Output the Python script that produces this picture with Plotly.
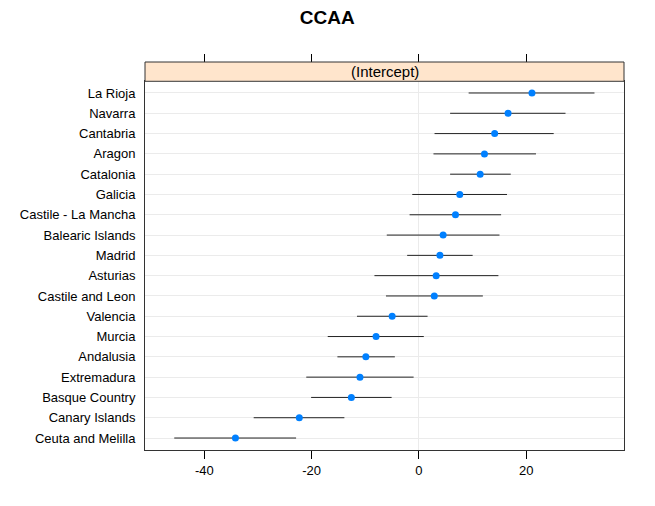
import plotly.graph_objects as go

regions = ["La Rioja", "Navarra", "Cantabria", "Aragon", "Catalonia", "Galicia",
           "Castile - La Mancha", "Balearic Islands", "Madrid", "Asturias",
           "Castile and Leon", "Valencia", "Murcia", "Andalusia", "Extremadura",
           "Basque Country", "Canary Islands", "Ceuta and Melilla"]
estimate = [21.05, 16.6, 14.1, 12.2, 11.4, 7.6, 6.8, 4.5, 3.9, 3.2,
            2.85, -5.0, -8.0, -9.9, -11.0, -12.6, -22.3, -34.2]
lower = [9.25, 5.8, 2.9, 2.7, 5.8, -1.25, -1.75, -6.0, -2.2, -8.3,
         -6.15, -11.55, -17.0, -15.2, -21.0, -20.1, -30.8, -45.6]
upper = [32.7, 27.3, 25.1, 21.8, 17.1, 16.4, 15.3, 15.0, 10.0, 14.8,
         11.9, 1.6, 0.9, -4.5, -1.0, -5.1, -13.9, -22.9]
x_ticks = [-40, -20, 0, 20]
x_ticklabels = ["-40", "-20", "0", "20"]

n = len(regions)
ypos = [n - 1 - i for i in range(n)]

fig = go.Figure()
fig.add_trace(go.Scatter(
    x=estimate, y=ypos, mode="markers",
    marker=dict(color="#0080FF", size=7, symbol="circle"),
    error_x=dict(type="data", symmetric=False,
                 array=[u - e for u, e in zip(upper, estimate)],
                 arrayminus=[e - l for e, l in zip(estimate, lower)],
                 color="#222222", thickness=1, width=0),
    showlegend=False, hoverinfo="skip"))
# invisible trace for top axis
fig.add_trace(go.Scatter(x=[x_ticks[0]], y=[0], xaxis="x2", mode="markers",
                         marker=dict(opacity=0), showlegend=False, hoverinfo="skip"))

font = "Liberation Sans, Arial, sans-serif"
fig.update_layout(
    width=655, height=506,
    paper_bgcolor="white", plot_bgcolor="white",
    margin=dict(l=137, r=39, t=54, b=64, autoexpand=False),
    title=dict(text="<b>CCAA</b>", x=0.4875, xanchor="center", y=0.981, yanchor="middle",
               font=dict(family=font, size=19, color="black")),
    font=dict(family=font, size=13, color="black"),
    xaxis=dict(range=[-51.05, 38.2], tickvals=x_ticks, ticktext=x_ticklabels,
               ticks="outside", ticklen=8,
               tickcolor="black", showgrid=False, zeroline=True, zerolinecolor="#ebebeb",
               zerolinewidth=1, showline=True, linecolor="#333333", linewidth=1,
               mirror=True, tickfont=dict(size=13), anchor="y"),
    xaxis2=dict(range=[-51.05, 38.2], tickvals=x_ticks, ticks="outside", ticklen=8,
                tickcolor="black", showticklabels=False, showgrid=False, zeroline=False,
                overlaying="x", side="top", anchor="free", position=1, showline=False),
    yaxis=dict(range=[-0.59, n - 1 + 0.577], tickvals=ypos, ticktext=regions,
               domain=[0, 0.9503], showgrid=True, gridcolor="#ebebeb", gridwidth=1,
               zeroline=False, ticks="", showline=True, linecolor="#333333",
               linewidth=1, mirror=True, tickfont=dict(size=13), ticklabelstandoff=6),
    shapes=[dict(type="rect", xref="paper", yref="paper", x0=0, x1=1, y0=0.9503, y1=1,
                 fillcolor="#FFE5CC", line=dict(color="#333333", width=1), layer="above")],
    annotations=[dict(text="(Intercept)", xref="paper", yref="paper", x=0.5, y=0.975,
                      xanchor="center", yanchor="middle", showarrow=False,
                      font=dict(family=font, size=15, color="black"))],
)
fig.write_html("out.html")
